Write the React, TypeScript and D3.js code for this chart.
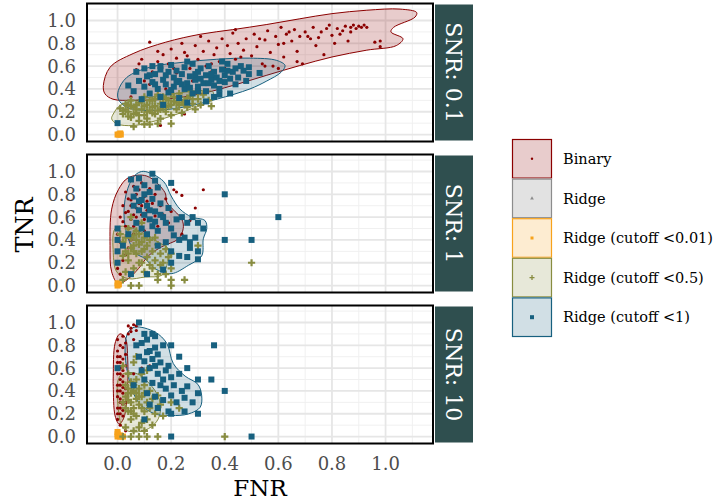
import React, { useEffect, useRef } from "react";
import * as d3 from "d3";

// facet labels and legend entries
const snrLabels = ["SNR: 0.1", "SNR: 1", "SNR: 10"];
const methods = ["Binary", "Ridge", "Ridge (cutoff <0.01)", "Ridge (cutoff <0.5)", "Ridge (cutoff <1)"];
const methodColors = ["#8b0000", "#8c8c8c", "#f7a21b", "#888c40", "#17607f"];
const xTicks = [0, 0.2, 0.4, 0.6, 0.8, 1.0];
const yTicks = [0, 0.2, 0.4, 0.6, 0.8, 1.0];
const xMinor = [0.1, 0.3, 0.5, 0.7, 0.9, 1.1];
const yMinor = [0.1, 0.3, 0.5, 0.7, 0.9, 1.1];

// ---- SNR 0.1 : points [FNR, TNR]
const binary01 = [
  [0.05,0.33],[0.07,0.57],[0.08,0.62],[0.10,0.47],[0.12,0.81],[0.13,0.55],[0.15,0.73],[0.15,0.64],[0.17,0.70],[0.18,0.51],
  [0.19,0.62],[0.20,0.75],[0.21,0.58],[0.16,0.08],[0.25,0.18],[0.22,0.67],[0.24,0.80],[0.25,0.72],[0.26,0.69],[0.28,0.63],
  [0.29,0.78],[0.30,0.66],[0.31,0.86],[0.32,0.73],[0.33,0.60],[0.34,0.82],[0.35,0.55],[0.36,0.70],[0.37,0.76],[0.38,0.64],
  [0.39,0.84],[0.40,0.58],[0.41,0.78],[0.42,0.71],[0.43,0.89],[0.44,0.66],[0.45,0.80],[0.47,0.74],[0.48,0.84],[0.50,0.69],
  [0.51,0.88],[0.52,0.77],[0.54,0.62],[0.55,0.83],[0.56,0.91],[0.57,0.72],[0.58,0.60],[0.59,0.86],[0.60,0.79],[0.61,0.94],
  [0.62,0.68],[0.63,0.88],[0.65,0.82],[0.66,0.92],[0.67,0.73],[0.68,0.86],[0.69,0.62],[0.70,0.90],[0.72,0.84],[0.73,0.94],
  [0.74,0.78],[0.76,0.90],[0.77,0.70],[0.78,0.93],[0.80,0.87],[0.81,0.80],[0.82,0.93],[0.84,0.91],[0.85,0.95],[0.86,0.82],
  [0.87,0.94],[0.88,0.96],[0.89,0.93],[0.90,0.95],[0.91,0.94],[0.93,0.94],[0.96,0.81],[0.98,0.82],[0.98,0.77],[0.55,0.60],
  [0.60,0.58],[0.12,0.44],[0.18,0.40],[0.28,0.47],[0.09,0.66],[0.44,0.92],[0.53,0.84],[0.64,0.90],[0.71,0.86],[0.83,0.88],
  [0.22,0.54],[0.27,0.58],[0.35,0.62],[0.46,0.68],[0.62,0.80],[0.75,0.85],[0.79,0.96],[0.87,0.90],[0.92,0.96],[0.67,0.64],
];
const orange01 = [[0.0,0.0],[0.01,0.01],[0.005,0.0],[0.012,0.0]];
const olive01 = [
  [0.01,0.23],[0.02,0.18],[0.03,0.27],[0.04,0.20],[0.05,0.15],[0.05,0.30],[0.06,0.24],[0.07,0.19],[0.08,0.28],[0.08,0.12],
  [0.09,0.22],[0.10,0.33],[0.10,0.17],[0.11,0.26],[0.12,0.21],[0.12,0.09],[0.13,0.30],[0.14,0.18],[0.14,0.25],[0.15,0.35],
  [0.16,0.22],[0.16,0.14],[0.17,0.28],[0.18,0.20],[0.18,0.32],[0.19,0.25],[0.20,0.17],[0.20,0.36],[0.21,0.29],[0.22,0.22],
  [0.23,0.33],[0.23,0.26],[0.24,0.19],[0.25,0.30],[0.26,0.24],[0.27,0.34],[0.28,0.27],[0.29,0.22],[0.30,0.31],[0.31,0.26],
  [0.32,0.35],[0.34,0.30],[0.35,0.25],[0.30,0.37],[0.27,0.38],[0.06,0.07],[0.10,0.09],[0.15,0.095],[0.20,0.095],[0.04,0.26],
  [0.07,0.22],[0.11,0.20],[0.13,0.24],[0.17,0.24],[0.09,0.29],[0.06,0.18],[0.03,0.22],[0.19,0.30],[0.24,0.28],[0.14,0.31],
  [0.02,0.21],[0.05,0.25],[0.08,0.17],[0.10,0.25],[0.12,0.30],[0.15,0.21],[0.16,0.27],[0.18,0.24],[0.20,0.26],[0.21,0.33],
  [0.22,0.28],[0.25,0.26],[0.26,0.32],[0.28,0.31],[0.11,0.14],[0.13,0.19],[0.07,0.26],[0.04,0.16],[0.17,0.33],[0.23,0.36],
];
const blue01 = [
  [0.04,0.43],[0.06,0.38],[0.07,0.55],[0.08,0.47],[0.09,0.31],[0.10,0.58],[0.10,0.42],[0.11,0.51],[0.12,0.36],[0.13,0.60],
  [0.13,0.46],[0.14,0.53],[0.15,0.40],[0.16,0.57],[0.16,0.33],[0.17,0.48],[0.18,0.44],[0.19,0.55],[0.19,0.37],[0.20,0.61],
  [0.21,0.50],[0.21,0.42],[0.22,0.56],[0.23,0.47],[0.23,0.32],[0.24,0.53],[0.25,0.40],[0.25,0.59],[0.26,0.45],[0.27,0.51],
  [0.28,0.36],[0.28,0.62],[0.29,0.48],[0.30,0.55],[0.30,0.42],[0.31,0.58],[0.32,0.45],[0.33,0.52],[0.33,0.38],[0.34,0.60],
  [0.35,0.48],[0.36,0.43],[0.36,0.55],[0.37,0.50],[0.38,0.40],[0.39,0.57],[0.40,0.46],[0.40,0.52],[0.41,0.62],[0.42,0.49],
  [0.43,0.55],[0.44,0.44],[0.44,0.58],[0.45,0.50],[0.47,0.56],[0.48,0.47],[0.49,0.53],[0.36,0.33],[0.33,0.29],[0.49,0.59],
  [0.0,0.10],[0.53,0.54],[0.42,0.36],[0.38,0.35],[0.26,0.28],[0.17,0.26],[0.39,0.64],[0.46,0.60],
  [0.14,0.44],[0.18,0.52],[0.22,0.46],[0.24,0.44],[0.27,0.41],[0.29,0.53],[0.31,0.49],[0.34,0.45],[0.35,0.53],[0.38,0.47],
  [0.41,0.56],[0.12,0.52],[0.20,0.39],[0.30,0.38],[0.16,0.60],[0.26,0.64],
];
// ---- SNR 0.1 : density outlines [FNR, TNR]
const binary01Hull = [
  [-0.028,0.59],[0.058,0.71],[0.18,0.81],[0.31,0.88],[0.43,0.92],[0.557,0.965],[0.68,1.015],[0.80,1.06],[0.93,1.09],[1.054,1.10],
  [1.116,1.07],[1.11,1.03],[1.03,0.94],[1.02,0.90],[1.065,0.84],[1.04,0.78],[0.93,0.74],[0.80,0.68],[0.68,0.605],[0.557,0.52],
  [0.43,0.43],[0.31,0.357],[0.18,0.31],[0.058,0.30],[-0.017,0.31],[-0.047,0.357],[-0.053,0.43],
];
const blue01Hull = [
  [0.003,0.386],[0.034,0.50],[0.12,0.59],[0.245,0.634],[0.37,0.66],[0.494,0.67],[0.594,0.65],[0.625,0.605],[0.61,0.546],[0.557,0.47],
  [0.494,0.40],[0.37,0.31],[0.245,0.24],[0.12,0.21],[0.034,0.24],[0.003,0.31],
];
const olive01Hull = [
  [-0.016,0.18],[0.009,0.254],[0.084,0.31],[0.21,0.357],[0.31,0.386],[0.357,0.37],[0.345,0.30],[0.258,0.21],[0.146,0.123],[0.059,0.079],
  [-0.003,0.094],[-0.022,0.138],
];

// ---- SNR 1
const binary1 = [
  [0.00,0.45],[0.00,0.30],[0.00,0.15],[0.01,0.38],[0.01,0.60],[0.02,0.70],[0.02,0.22],[0.03,0.52],[0.03,0.82],[0.04,0.65],
  [0.04,0.33],[0.05,0.75],[0.05,0.58],[0.06,0.87],[0.06,0.45],[0.07,0.68],[0.07,0.80],[0.08,0.55],[0.08,0.72],[0.09,0.62],
  [0.09,0.90],[0.10,0.78],[0.10,0.48],[0.11,0.66],[0.12,0.85],[0.12,0.57],[0.13,0.72],[0.14,0.61],[0.14,0.80],[0.15,0.52],
  [0.16,0.70],[0.17,0.62],[0.18,0.76],[0.19,0.55],[0.20,0.65],[0.21,0.84],[0.22,0.82],[0.24,0.79],[0.29,0.68],[0.27,0.57],
  [0.24,0.45],[0.32,0.84],[0.02,0.05],[0.01,0.10],[0.05,0.40],[0.03,0.27],[0.04,0.76],[0.06,0.62],[0.08,0.84],[0.11,0.74],
  [0.02,0.56],[0.03,0.64],[0.05,0.70],[0.06,0.52],[0.07,0.60],[0.09,0.70],[0.10,0.58],[0.04,0.50],
];
const orange1 = [[0.0,0.0],[0.0,0.02],[0.005,0.01]];
const olive1 = [
  [0.01,0.45],[0.02,0.38],[0.03,0.30],[0.04,0.50],[0.04,0.22],[0.05,0.42],[0.06,0.35],[0.06,0.15],[0.07,0.28],[0.08,0.45],
  [0.08,0.20],[0.09,0.38],[0.10,0.32],[0.10,0.12],[0.11,0.25],[0.12,0.40],[0.12,0.18],[0.13,0.30],[0.14,0.22],[0.15,0.36],
  [0.15,0.10],[0.16,0.28],[0.17,0.20],[0.18,0.32],[0.19,0.25],[0.20,0.28],[0.20,0.15],[0.09,0.55],[0.05,0.60],[0.03,0.12],
  [0.02,0.05],[0.05,0.00],[0.08,0.00],[0.20,0.00],[0.15,0.05],[0.20,0.05],[0.25,0.05],[0.30,0.35],[0.50,0.20],[0.18,0.10],
  [0.02,0.26],[0.07,0.40],[0.11,0.35],[0.13,0.15],[0.16,0.18],[0.06,0.30],[0.09,0.20],[0.14,0.42],
  [0.03,0.42],[0.05,0.33],[0.07,0.48],[0.08,0.36],[0.10,0.42],[0.04,0.28],[0.06,0.44],[0.09,0.30],
];
const blue1 = [
  [0.05,0.93],[0.08,0.94],[0.13,0.98],[0.07,0.85],[0.10,0.88],[0.12,0.82],[0.15,0.86],[0.06,0.78],[0.09,0.75],[0.11,0.70],
  [0.13,0.76],[0.16,0.72],[0.08,0.66],[0.10,0.62],[0.12,0.58],[0.14,0.65],[0.17,0.60],[0.19,0.68],[0.07,0.55],[0.09,0.50],
  [0.11,0.45],[0.13,0.52],[0.15,0.48],[0.18,0.55],[0.20,0.50],[0.22,0.58],[0.24,0.60],[0.26,0.55],[0.28,0.60],[0.30,0.55],
  [0.32,0.50],[0.21,0.44],[0.23,0.40],[0.25,0.42],[0.27,0.38],[0.29,0.42],[0.18,0.38],[0.15,0.35],[0.20,0.30],[0.23,0.26],
  [0.26,0.25],[0.30,0.30],[0.30,0.23],[0.20,0.20],[0.17,0.14],[0.11,0.10],[0.05,0.10],[0.00,0.50],[0.00,0.40],[0.00,0.30],
  [0.00,0.20],[0.02,0.35],[0.04,0.45],[0.40,0.80],[0.60,0.60],[0.40,0.40],[0.50,0.40],[0.20,0.90],[0.06,0.70],[0.14,0.92],
  [0.27,0.33],[0.10,0.80],[0.12,0.66],[0.16,0.62],[0.14,0.56],[0.08,0.74],
];
const binary1Hull = [
  [0.04,0.945],[0.109,0.96],[0.177,0.815],[0.184,0.73],[0.24,0.58],[0.245,0.50],[0.227,0.41],[0.165,0.34],[0.115,0.26],[0.078,0.148],
  [0.04,0.06],[0.003,0.017],[-0.022,0.12],[-0.028,0.35],[-0.022,0.67],[0.003,0.84],
];
const blue1Hull = [
  [0.078,0.99],[0.103,1.0],[0.171,0.915],[0.20,0.785],[0.233,0.67],[0.277,0.60],[0.326,0.57],[0.333,0.50],[0.32,0.41],[0.314,0.26],
  [0.264,0.177],[0.20,0.104],[0.14,0.148],[0.103,0.235],[0.065,0.29],[0.028,0.52],[0.028,0.755],[0.053,0.93],
];
const olive1Hull = [
  [-0.009,0.50],[0.028,0.52],[0.09,0.467],[0.152,0.38],[0.19,0.32],[0.184,0.177],[0.165,0.09],[0.103,0.075],[0.04,0.06],[-0.003,0.12],
  [-0.016,0.29],
];

// ---- SNR 10
const binary10 = [
  [0.00,0.15],[0.00,0.25],[0.00,0.35],[0.00,0.45],[0.00,0.55],[0.00,0.65],[0.00,0.75],[0.01,0.20],[0.01,0.30],[0.01,0.40],
  [0.01,0.50],[0.01,0.60],[0.01,0.70],[0.01,0.80],[0.01,0.10],[0.02,0.28],[0.02,0.38],[0.02,0.48],[0.02,0.58],[0.02,0.68],
  [0.02,0.78],[0.02,0.88],[0.03,0.62],[0.03,0.72],[0.03,0.82],[0.04,0.90],[0.05,0.95],[0.06,0.98],[0.07,0.93],[0.08,0.99],
  [0.07,0.97],[0.05,0.92],[0.04,0.97],[0.06,0.85],[0.07,0.80],[0.09,0.60],[0.12,0.62],[0.06,0.55],[0.03,0.05],[0.00,0.05],
  [0.02,0.18],[0.03,0.42],[0.00,0.85],[0.01,0.33],[0.02,0.53],[0.00,0.60],[0.01,0.45],[0.03,0.30],
  [0.00,0.20],[0.00,0.40],[0.01,0.25],[0.01,0.55],[0.01,0.65],[0.02,0.23],[0.02,0.43],[0.00,0.70],
];
const orange10 = [[0.0,0.0],[0.01,0.01],[0.0,0.02],[0.02,0.0],[0.01,0.0],[0.0,0.04]];
const olive10 = [
  [0.02,0.62],[0.04,0.55],[0.06,0.65],[0.03,0.45],[0.05,0.48],[0.07,0.50],[0.09,0.55],[0.11,0.58],[0.04,0.38],[0.06,0.40],
  [0.08,0.42],[0.10,0.45],[0.12,0.40],[0.05,0.30],[0.07,0.33],[0.09,0.35],[0.11,0.30],[0.13,0.33],[0.15,0.36],[0.04,0.22],
  [0.06,0.25],[0.08,0.28],[0.10,0.22],[0.12,0.25],[0.14,0.20],[0.16,0.28],[0.05,0.15],[0.07,0.18],[0.09,0.12],[0.11,0.15],
  [0.13,0.10],[0.03,0.08],[0.06,0.05],[0.08,0.08],[0.10,0.05],[0.02,0.00],[0.05,0.00],[0.08,0.00],[0.11,0.00],[0.15,0.00],
  [0.40,0.00],[0.20,0.30],[0.23,0.25],[0.17,0.18],[0.02,0.30],[0.07,0.70],[0.03,0.35],[0.06,0.45],[0.09,0.25],[0.05,0.38],
  [0.03,0.25],[0.04,0.32],[0.06,0.20],[0.07,0.38],[0.08,0.35],[0.10,0.38],[0.04,0.42],[0.05,0.22],
];
const blue10 = [
  [0.08,1.00],[0.10,0.90],[0.13,0.90],[0.07,0.80],[0.09,0.82],[0.11,0.85],[0.14,0.78],[0.17,0.80],[0.20,0.80],[0.12,0.75],
  [0.15,0.72],[0.08,0.70],[0.10,0.66],[0.13,0.68],[0.16,0.65],[0.19,0.62],[0.23,0.70],[0.09,0.58],[0.12,0.60],[0.15,0.55],
  [0.18,0.58],[0.20,0.52],[0.23,0.55],[0.10,0.50],[0.13,0.47],[0.16,0.45],[0.18,0.42],[0.21,0.45],[0.24,0.40],[0.26,0.44],
  [0.30,0.50],[0.11,0.38],[0.14,0.35],[0.17,0.32],[0.20,0.36],[0.22,0.30],[0.25,0.34],[0.28,0.30],[0.30,0.38],[0.12,0.28],
  [0.15,0.25],[0.19,0.22],[0.20,0.20],[0.30,0.20],[0.25,0.22],[0.10,0.15],[0.36,0.80],[0.40,0.40],[0.35,0.50],[0.50,0.00],
  [0.20,0.00],[0.00,0.60],[0.06,0.45],[0.26,0.60],[0.14,0.88],[0.11,0.74],[0.14,0.62],[0.17,0.50],
];
const binary10Hull = [
  [-0.016,0.44],[-0.016,0.53],[-0.009,0.82],[0.009,0.90],[0.028,0.87],[0.038,0.67],[0.034,0.30],[0.022,0.155],[0.006,0.11],[-0.009,0.18],
];
const blue10Hull = [
  [0.065,0.96],[0.14,0.916],[0.184,0.816],[0.208,0.64],[0.252,0.53],[0.30,0.457],[0.314,0.356],[0.308,0.256],[0.264,0.198],[0.20,0.184],
  [0.14,0.198],[0.078,0.30],[0.04,0.53],[0.028,0.79],[0.04,0.916],
];
const olive10Hull = [
  [0.009,0.53],[0.065,0.557],[0.128,0.44],[0.159,0.30],[0.152,0.155],[0.115,0.069],[0.065,0.04],[0.022,0.069],[0.003,0.24],
];

const panels = [
  { label: snrLabels[0], pts: [binary01, [], orange01, olive01, blue01], hulls: [binary01Hull, null, null, olive01Hull, blue01Hull] },
  { label: snrLabels[1], pts: [binary1, [], orange1, olive1, blue1], hulls: [binary1Hull, null, null, olive1Hull, blue1Hull] },
  { label: snrLabels[2], pts: [binary10, [], orange10, olive10, blue10], hulls: [binary10Hull, null, null, olive10Hull, blue10Hull] },
];

const W = 716, H = 500;
const panelLeft = 87, panelRight = 433;
const panelTops = [3.5, 154.5, 305.5];
const panelH = 138;
const FONT = "'DejaVu Serif', serif";

export default function App() {
  const ref = useRef<SVGSVGElement>(null);

  useEffect(() => {
    const svg = d3.select(ref.current);
    svg.selectAll("*").remove();

    const x = d3.scaleLinear().domain([-0.114, 1.177]).range([panelLeft, panelRight]);

    panels.forEach((p, pi) => {
      const top = panelTops[pi];
      const y = d3.scaleLinear().domain([-0.061, 1.149]).range([top + panelH, top]);
      const g = svg.append("g");

      // grid
      xMinor.forEach(v => g.append("line").attr("x1", x(v)).attr("x2", x(v)).attr("y1", top).attr("y2", top + panelH)
        .style("stroke", "#f0f0f0").style("stroke-width", 1));
      yMinor.forEach(v => g.append("line").attr("x1", panelLeft).attr("x2", panelRight).attr("y1", y(v)).attr("y2", y(v))
        .style("stroke", "#f0f0f0").style("stroke-width", 1));
      xTicks.forEach(v => g.append("line").attr("x1", x(v)).attr("x2", x(v)).attr("y1", top).attr("y2", top + panelH)
        .style("stroke", "#e6e6e6").style("stroke-width", 1.8));
      yTicks.forEach(v => g.append("line").attr("x1", panelLeft).attr("x2", panelRight).attr("y1", y(v)).attr("y2", y(v))
        .style("stroke", "#e6e6e6").style("stroke-width", 1.8));

      // density outlines
      const line = d3.line<number[]>().x(d => x(d[0])).y(d => y(d[1])).curve(d3.curveCatmullRomClosed.alpha(0.5));
      p.hulls.forEach((h, i) => {
        if (!h) return;
        g.append("path").attr("d", line(h) as string)
          .style("fill", methodColors[i]).style("fill-opacity", 0.2)
          .style("stroke", methodColors[i]).style("stroke-width", 1);
      });

      // points
      p.pts.forEach((pts, i) => {
        const c = methodColors[i];
        pts.forEach(d => {
          const px = x(d[0]), py = y(d[1]);
          if (i === 0) {
            g.append("circle").attr("cx", px).attr("cy", py).attr("r", 1.6).style("fill", c);
          } else if (i === 2) {
            g.append("rect").attr("x", px - 3).attr("y", py - 3).attr("width", 6).attr("height", 6).style("fill", c);
          } else if (i === 3) {
            g.append("path").attr("d", `M${px - 3.6},${py}H${px + 3.6}M${px},${py - 3.6}V${py + 3.6}`)
              .style("stroke", c).style("stroke-width", 2.2);
          } else if (i === 4) {
            g.append("rect").attr("x", px - 3).attr("y", py - 3).attr("width", 6).attr("height", 6).style("fill", c);
          }
        });
      });

      // border
      g.append("rect").attr("x", panelLeft).attr("y", top).attr("width", panelRight - panelLeft).attr("height", panelH)
        .style("fill", "none").style("stroke", "#000").style("stroke-width", 2);

      // y tick labels
      yTicks.forEach(v => g.append("text").attr("x", 76).attr("y", y(v)).attr("dy", "0.36em")
        .attr("text-anchor", "end").style("font-family", FONT).style("font-size", "18px").style("fill", "#4d4d4d")
        .text(v.toFixed(1)));

      // strip
      g.append("rect").attr("x", 435).attr("y", top + 1).attr("width", 38).attr("height", panelH - 2).style("fill", "#2f4f4f");
      g.append("text").attr("transform", `translate(454,${top + panelH / 2}) rotate(90)`)
        .attr("text-anchor", "middle").attr("dy", "0.36em")
        .style("font-family", FONT).style("font-size", "22px").style("fill", "#ffffff").text(p.label);
    });

    // x tick labels
    xTicks.forEach(v => svg.append("text").attr("x", x(v)).attr("y", 470).attr("text-anchor", "middle")
      .style("font-family", FONT).style("font-size", "18px").style("fill", "#4d4d4d").text(v.toFixed(1)));

    // axis titles
    svg.append("text").attr("x", (panelLeft + panelRight) / 2).attr("y", 496).attr("text-anchor", "middle")
      .style("font-family", FONT).style("font-size", "23px").style("fill", "#000").text("FNR");
    svg.append("text").attr("transform", "translate(33,225) rotate(-90)").attr("text-anchor", "middle")
      .style("font-family", FONT).style("font-size", "24px").style("fill", "#000").text("TNR");

    // legend
    const lx = 512, ly = 139, ks = 39.6;
    methods.forEach((m, i) => {
      const c = methodColors[i];
      const ky = ly + i * ks;
      svg.append("rect").attr("x", lx).attr("y", ky).attr("width", 40).attr("height", ks)
        .style("fill", "#fff");
      svg.append("rect").attr("x", lx + 0.5).attr("y", ky + 0.5).attr("width", 39).attr("height", ks - 1)
        .style("fill", c).style("fill-opacity", i === 1 ? 0.25 : 0.2).style("stroke", c).style("stroke-width", 1.2);
      const cx = lx + 20, cy = ky + ks / 2;
      if (i === 0) svg.append("circle").attr("cx", cx).attr("cy", cy).attr("r", 1.2).style("fill", c);
      else if (i === 1) svg.append("path").attr("d", d3.symbol(d3.symbolTriangle, 6)()).attr("transform", `translate(${cx},${cy})`).style("fill", c);
      else if (i === 2) svg.append("rect").attr("x", cx - 1.5).attr("y", cy - 1.5).attr("width", 3).attr("height", 3).style("fill", c);
      else if (i === 3) svg.append("path").attr("d", `M${cx - 2.5},${cy}H${cx + 2.5}M${cx},${cy - 2.5}V${cy + 2.5}`).style("stroke", c).style("stroke-width", 1.3);
      else svg.append("rect").attr("x", cx - 2).attr("y", cy - 2).attr("width", 4).attr("height", 4).style("fill", c);
      svg.append("text").attr("x", 563).attr("y", cy).attr("dy", "0.36em")
        .style("font-family", FONT).style("font-size", "14.5px").style("fill", "#000").text(m);
    });
  }, []);

  return (
    <svg ref={ref} width={W} height={H} style={{ position: "absolute", left: 0, top: 0, background: "#fff" }}></svg>
  );
}
